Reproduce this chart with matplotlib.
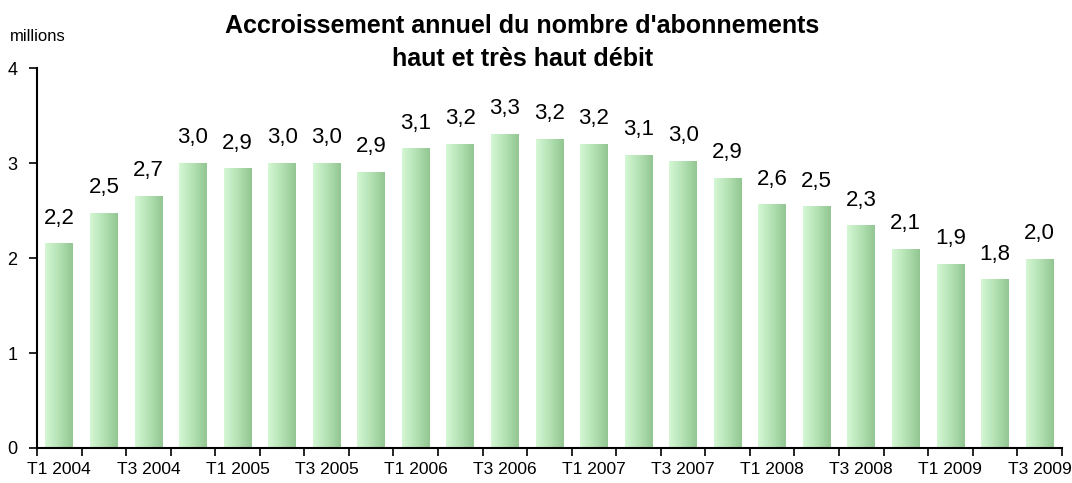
import numpy as np
import matplotlib.pyplot as plt
from matplotlib.colors import LinearSegmentedColormap

plt.rcParams['font.family'] = ['Liberation Sans', 'DejaVu Sans']

quarters = ['T1 2004', 'T2 2004', 'T3 2004', 'T4 2004',
            'T1 2005', 'T2 2005', 'T3 2005', 'T4 2005',
            'T1 2006', 'T2 2006', 'T3 2006', 'T4 2006',
            'T1 2007', 'T2 2007', 'T3 2007', 'T4 2007',
            'T1 2008', 'T2 2008', 'T3 2008', 'T4 2008',
            'T1 2009', 'T2 2009', 'T3 2009']
values = [2.15, 2.47, 2.65, 3.00, 2.94, 3.00, 3.00, 2.90, 3.15, 3.20, 3.30, 3.25,
          3.20, 3.08, 3.02, 2.84, 2.56, 2.54, 2.34, 2.09, 1.93, 1.77, 1.99]
labels = ['2,2', '2,5', '2,7', '3,0', '2,9', '3,0', '3,0', '2,9', '3,1', '3,2', '3,3', '3,2',
          '3,2', '3,1', '3,0', '2,9', '2,6', '2,5', '2,3', '2,1', '1,9', '1,8', '2,0']
yticks = [0, 1, 2, 3, 4]

fig = plt.figure(figsize=(10.72, 4.83), dpi=100)
ax = fig.add_axes([0.0345, 0.0725, 0.956, 0.7865])

cmap = LinearSegmentedColormap.from_list('grn', ['#d4f7d4', '#b4e2b4', '#92c692'])
grad = np.linspace(0, 1, 64).reshape(1, -1)
w = 0.62
x = np.arange(len(values))
for i, v in enumerate(values):
    ax.imshow(grad, cmap=cmap, aspect='auto', extent=(i - w / 2, i + w / 2, 0, v),
              interpolation='bilinear', zorder=2)
    ax.text(i, v + 0.16, labels[i], ha='center', va='bottom', fontsize=16)

ax.set_xlim(-0.5, len(values) - 0.5)
ax.set_ylim(0, 4)
ax.set_yticks(yticks)
ax.set_yticklabels([str(t) for t in yticks], fontsize=13)
ax.set_xticks(np.arange(-0.5, len(values), 1.0))
ax.set_xticklabels([])
ax.set_xticks(x[::2], minor=True)
ax.set_xticklabels(quarters[::2], minor=True, fontsize=12.5)
ax.tick_params(axis='x', which='major', direction='out', length=6, width=1.2)
ax.tick_params(axis='x', which='minor', length=0, pad=10)
ax.tick_params(axis='y', direction='out', length=6, width=1.2, pad=8)
for s in ['top', 'right']:
    ax.spines[s].set_visible(False)
ax.spines['left'].set_linewidth(1.5)
ax.spines['bottom'].set_linewidth(1.5)

fig.text(0.487, 0.912, "Accroissement annuel du nombre d'abonnements\nhaut et très haut débit",
         ha='center', va='center', fontsize=18, fontweight='bold', linespacing=1.45)
fig.text(0.009, 0.925, 'millions', ha='left', va='center', fontsize=12)

fig.savefig('out.png', dpi=100)
